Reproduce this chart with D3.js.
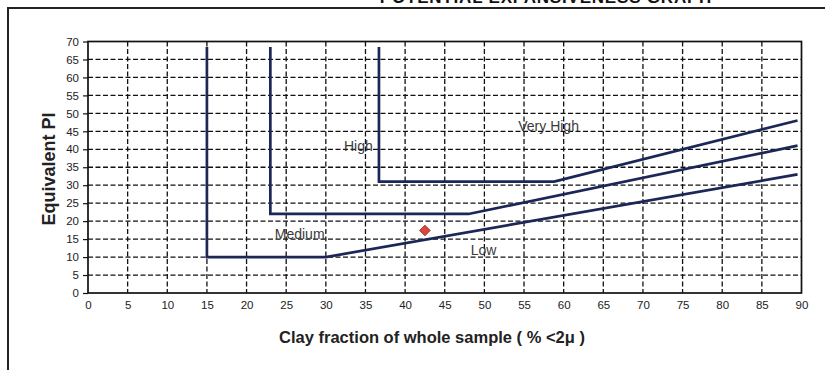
<!DOCTYPE html>
<html>
<head>
<meta charset="utf-8">
<script src="https://cdn.jsdelivr.net/npm/d3@7"></script>
<style>
  html, body { margin: 0; padding: 0; background: #fff; }
  svg { display: block; font-family: "Liberation Sans", Arial, Helvetica, sans-serif; }
</style>
</head>
<body>
<svg id="chart" width="825" height="370"></svg>
<script>
// Axis ticks
const xTickValues = [0, 5, 10, 15, 20, 25, 30, 35, 40, 45, 50, 55, 60, 65, 70, 75, 80, 85, 90];
const yTickValues = [0, 5, 10, 15, 20, 25, 30, 35, 40, 45, 50, 55, 60, 65, 70];

// Class boundary lines (clay fraction %, equivalent PI)
const lowMediumLine = [[15, 68.5], [15, 10], [30, 10], [89.5, 33]];
const mediumHighLine = [[23, 68.5], [23, 22], [48, 22], [89.5, 41]];
const highVeryHighLine = [[36.7, 68.5], [36.7, 31], [58.8, 31], [89.5, 48]];

// Zone names
const zoneNames = ["Low", "Medium", "High", "Very High"];
const zoneX = [49.9, 26.7, 34.1, 58.1];
const zoneY = [12, 16.5, 40.8, 46.5];

// Sample result
const sampleClay = [42.5];
const samplePI = [17.4];

const svg = d3.select("#chart");

const plotLeft = 88, plotRight = 801.5, plotTop = 41.5, plotBottom = 293;
const x = d3.scaleLinear().domain([0, 90]).range([plotLeft, plotRight]);
const y = d3.scaleLinear().domain([0, 70]).range([plotBottom, plotTop]);

// Outer frame (partly outside the page)
svg.append("path")
  .attr("d", `M8,370 V8 H830`)
  .attr("fill", "none").attr("stroke", "#222").attr("stroke-width", 2);

// Title, running off the top edge of the page
svg.append("text")
  .attr("x", 546).attr("y", 3)
  .attr("text-anchor", "middle")
  .attr("font-size", 17).attr("font-weight", "bold")
  .attr("letter-spacing", 0.8)
  .attr("fill", "#111")
  .text("POTENTIAL EXPANSIVENESS GRAPH");

// Dashed grid
const grid = svg.append("g").attr("stroke", "#111").attr("stroke-width", 1.3)
  .attr("stroke-dasharray", "5,2.5");
grid.selectAll("line.v").data(xTickValues.filter(v => v > 0 && v < 90)).join("line")
  .attr("class", "v")
  .attr("x1", d => x(d)).attr("x2", d => x(d))
  .attr("y1", y(70)).attr("y2", y(0));
grid.selectAll("line.h").data(yTickValues.filter(v => v > 0 && v < 70)).join("line")
  .attr("class", "h")
  .attr("x1", x(0)).attr("x2", x(90))
  .attr("y1", d => y(d)).attr("y2", d => y(d));

// Axes
const yAxis = svg.append("g")
  .attr("transform", `translate(${plotLeft},0)`)
  .call(d3.axisLeft(y).tickValues(yTickValues).tickSize(5).tickSizeOuter(0).tickPadding(4));
const xAxis = svg.append("g")
  .attr("transform", `translate(0,${plotBottom})`)
  .call(d3.axisBottom(x).tickValues(xTickValues).tickSize(0).tickSizeOuter(0).tickPadding(8));
[yAxis, xAxis].forEach(g => {
  g.select(".domain").remove();
  g.selectAll("line").attr("stroke", "#111").attr("stroke-width", 1.2);
  g.selectAll("text").attr("font-size", 11.5).attr("fill", "#222")
    .attr("font-family", "'Liberation Sans', Arial, sans-serif");
});

// Plot frame
svg.append("rect")
  .attr("x", plotLeft).attr("y", plotTop)
  .attr("width", plotRight - plotLeft).attr("height", plotBottom - plotTop)
  .attr("fill", "none").attr("stroke", "#111").attr("stroke-width", 1.7);

// Boundary lines
const line = d3.line().x(d => x(d[0])).y(d => y(d[1]));
svg.selectAll("path.boundary")
  .data([lowMediumLine, mediumHighLine, highVeryHighLine])
  .join("path")
  .attr("class", "boundary")
  .attr("d", line)
  .attr("fill", "none")
  .attr("stroke", "#1c2657")
  .attr("stroke-width", 2.7)
  .attr("stroke-linejoin", "miter");

// Zone labels
svg.selectAll("text.zone").data(zoneNames).join("text")
  .attr("class", "zone")
  .attr("x", (d, i) => x(zoneX[i]))
  .attr("y", (d, i) => y(zoneY[i]))
  .attr("dy", "0.35em")
  .attr("text-anchor", "middle")
  .attr("font-size", 14)
  .attr("fill", "#3a3a3a")
  .text(d => d);

// Sample point
svg.selectAll("path.sample").data(sampleClay).join("path")
  .attr("class", "sample")
  .attr("transform", (d, i) => `translate(${x(d)},${y(samplePI[i])})`)
  .attr("d", d3.symbol(d3.symbolDiamond2, 72))
  .attr("fill", "#e0453c")
  .attr("stroke", "#8b1e1a")
  .attr("stroke-width", 0.8);

// Axis titles
svg.append("text")
  .attr("transform", `translate(49,169) rotate(-90)`)
  .attr("text-anchor", "middle")
  .attr("dy", "0.35em")
  .attr("font-size", 18).attr("font-weight", "bold").attr("fill", "#222")
  .text("Equivalent PI");

svg.append("text")
  .attr("x", 432).attr("y", 337)
  .attr("text-anchor", "middle")
  .attr("dy", "0.35em")
  .attr("font-size", 16.5).attr("font-weight", "bold").attr("fill", "#222")
  .text("Clay fraction of whole sample ( % <2μ )");
</script>
</body>
</html>
